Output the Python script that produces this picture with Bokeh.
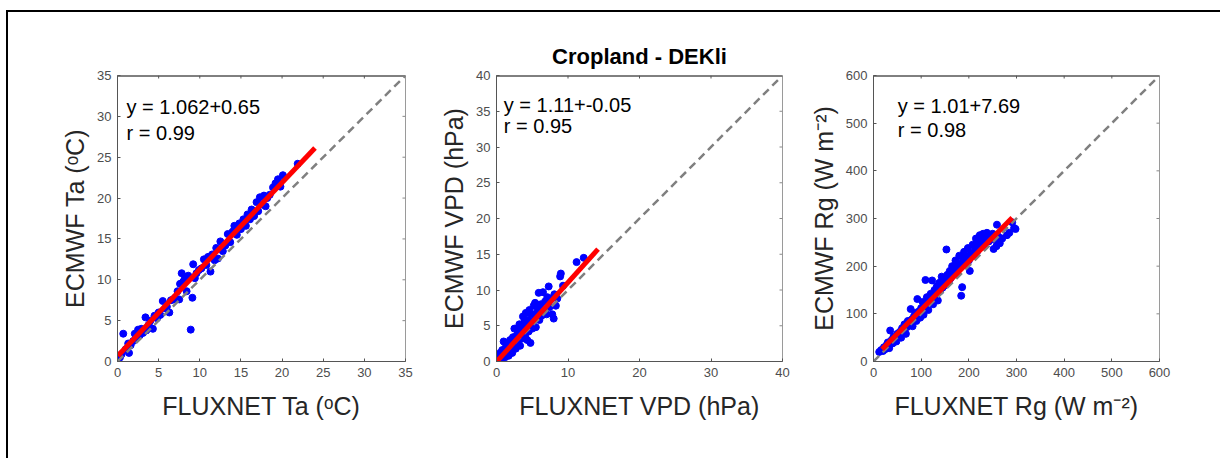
from bokeh.plotting import figure
from bokeh.models import Range1d, FixedTicker, Label, Title
from bokeh.layouts import row
from bokeh.embed import file_html
from bokeh.resources import INLINE

FONT = "Liberation Sans"

# ---------------- data ----------------
title_text = "Cropland - DEKli"

ta_x = [0.3, 0.5, 0.7, 1.0, 1.4, 1.3, 1.6, 1.9, 2.1, 2.3, 2.5, 2.7, 2.9, 3.1, 3.4, 3.5, 3.8, 4.0,
        4.3, 4.5, 4.8, 5.0, 5.2, 5.5, 5.8, 6.0, 6.3, 6.5, 6.8, 7.0, 7.3, 7.5, 7.6, 7.8, 8.0, 8.2,
        8.4, 8.6, 8.9, 9.1, 9.2, 9.4, 9.6, 9.9, 10.2, 10.5, 10.8, 11.0, 11.3, 11.5, 11.8, 12.0,
        12.2, 12.5, 12.8, 13.1, 13.4, 13.7, 14.0, 14.2, 14.5, 14.8, 15.0, 15.3, 15.6, 15.8, 16.1,
        16.3, 16.6, 16.9, 17.1, 17.3, 17.6, 17.8, 18.0, 18.2, 18.5, 18.9, 19.2, 19.5, 19.8, 20.1,
        21.9]
ta_y = [0.5, 0.9, 3.4, 1.5, 1.05, 2.2, 2.0, 2.5, 3.4, 3.0, 3.9, 3.2, 4.0, 3.5, 5.4, 3.8, 4.5, 5.0,
        4.0, 5.6, 5.3, 6.0, 5.7, 7.4, 6.5, 6.7, 6.0, 7.5, 7.6, 7.8, 8.6, 7.6, 9.5, 10.8, 9.8, 10.3,
        8.6, 10.5, 3.9, 7.8, 11.9, 10.2, 10.8, 11.2, 11.4, 12.5, 11.8, 12.8, 11.0, 13.1, 12.4, 13.9,
        12.6, 14.7, 13.5, 14.2, 15.6, 14.6, 15.9, 16.6, 15.5, 16.9, 16.2, 17.4, 16.6, 18.0, 17.4,
        18.6, 17.8, 19.5, 18.4, 20.1, 19.2, 20.3, 19.0, 20.0, 20.4, 21.3, 21.8, 22.3, 21.4, 22.8,
        24.2]

vpd_x = [0.2, 0.3, 0.5, 0.5, 0.7, 0.8, 0.9, 1.0, 1.1, 1.2, 1.3, 1.4, 1.5, 1.6, 1.7, 1.8, 1.9, 2.0,
         2.1, 2.2, 2.3, 2.4, 2.5, 2.6, 2.7, 2.8, 2.9, 3.0, 3.1, 3.2, 3.3, 3.4, 3.5, 3.6, 3.7, 3.8,
         3.9, 4.0, 4.1, 4.2, 4.3, 4.4, 4.5, 4.6, 4.75, 4.8, 4.9, 5.0, 5.2, 5.3, 5.4, 5.5, 5.6, 5.8,
         5.9, 6.0, 6.2, 6.3, 6.5, 6.6, 6.8, 7.0, 7.1, 7.3, 7.4, 7.6, 7.8, 8.0, 8.1, 8.3, 8.5, 8.9,
         9.0, 9.3, 11.2, 12.2]
vpd_y = [0.3, 0.8, 0.2, 1.2, 0.5, 1.6, 0.9, 2.8, 1.3, 0.6, 2.0, 1.0, 2.6, 1.5, 0.8, 2.2, 3.0, 1.6,
         2.6, 1.2, 3.4, 2.0, 4.6, 2.8, 1.8, 3.6, 2.4, 4.2, 3.0, 5.2, 2.2, 3.8, 4.8, 3.2, 6.3, 4.2,
         5.6, 3.6, 6.8, 4.8, 3.0, 5.8, 4.2, 7.2, 2.6, 5.4, 6.6, 4.6, 7.8, 5.8, 8.2, 4.8, 6.8, 7.4,
         9.6, 5.8, 8.0, 6.4, 9.7, 7.2, 8.4, 6.6, 9.0, 10.5, 7.6, 8.8, 6.6, 6.0, 9.4, 7.8, 8.8, 11.9,
         12.3, 10.6, 13.9, 14.5]

rg_x = [12, 16, 20, 22, 25, 28, 30, 33, 35, 38, 40, 42, 45, 48, 50, 52, 55, 58, 60, 62, 65, 68, 70,
        72, 75, 78, 80, 82, 85, 88, 90, 92, 95, 98, 100, 103, 105, 108, 109, 112, 115, 118, 120,
        123, 125, 128, 130, 133, 135, 138, 140, 143, 145, 148, 150, 153, 155, 158, 160, 162, 165,
        168, 170, 172, 175, 178, 180, 182, 184, 186, 188, 190, 192, 195, 198, 200, 202, 205, 208,
        210, 213, 215, 218, 220, 223, 225, 228, 230, 233, 235, 238, 242, 245, 250, 252, 255, 258,
        259, 262, 265, 270, 280, 285, 291, 295, 298]
rg_y = [20, 24, 22, 30, 26, 35, 40, 28, 65, 45, 38, 52, 48, 42, 58, 55, 62, 50, 70, 65, 78, 58, 72,
        85, 80, 110, 88, 74, 95, 102, 85, 131, 105, 92, 112, 125, 98, 118, 171, 135, 108, 130, 142,
        170, 120, 150, 138, 158, 128, 165, 148, 178, 155, 170, 160, 235, 182, 168, 190, 175, 200,
        182, 195, 212, 188, 205, 222, 198, 138, 156, 215, 230, 205, 220, 238, 212, 190, 228, 245,
        225, 240, 258, 232, 250, 265, 242, 255, 268, 245, 262, 270, 252, 265, 268, 236, 255, 242,
        287, 262, 248, 258, 265, 270, 292, 280, 278]

slopes = [1.062, 1.11, 1.01]
intercepts = [0.65, -0.05, 7.69]
r_values = [0.99, 0.95, 0.98]
fit_x_start = [0.05, 0.1, 18.0]
fit_x_end = [24.0, 14.2, 291.0]

axis_max = [35, 40, 600]
x_ticks = [[0, 5, 10, 15, 20, 25, 30, 35], [0, 10, 20, 30, 40], [0, 100, 200, 300, 400, 500, 600]]
y_ticks = [[0, 5, 10, 15, 20, 25, 30, 35], [0, 5, 10, 15, 20, 25, 30, 35, 40],
           [0, 100, 200, 300, 400, 500, 600]]
x_labels = ["FLUXNET Ta (\u1d52C)", "FLUXNET VPD (hPa)", "FLUXNET Rg (W m\u207b\u00b2)"]
y_labels = ["ECMWF Ta (\u1d52C)", "ECMWF VPD (hPa)", "ECMWF Rg (W m\u207b\u00b2)"]

# ---------------- layout (pixels) ----------------
geom = [  # width, height, left, right, top, bottom
    (412, 446, 109, 15, 63, 96),
    (375, 446, 76, 13, 63, 97),
    (425, 446, 78, 61, 63, 97),
]
text_pos = [(1.1, 31.1, 28.0), (1.02, 35.94, 32.9), (51, 535, 486)]
TICK_PX = 3.0


def make_panel(i, xs, ys, title=None):
    W, H, L, R, T, B = geom[i]
    m = axis_max[i]
    p = figure(width=W, height=H, x_range=Range1d(0, m), y_range=Range1d(0, m),
               output_backend="svg", toolbar_location=None,
               min_border_left=L, min_border_right=R, min_border_top=T, min_border_bottom=B,
               x_axis_label=x_labels[i], y_axis_label=y_labels[i])
    p.xgrid.grid_line_color = None
    p.ygrid.grid_line_color = None
    p.outline_line_color = "#9a9a9a"
    p.outline_line_width = 1
    p.background_fill_color = "white"
    p.border_fill_color = "white"

    p.xaxis.ticker = FixedTicker(ticks=x_ticks[i])
    p.yaxis.ticker = FixedTicker(ticks=y_ticks[i])
    for ax in (p.xaxis[0], p.yaxis[0]):
        ax.axis_line_color = "#555555"
        ax.axis_line_width = 1
        ax.major_tick_line_color = "#555555"
        ax.major_tick_in = 3
        ax.major_tick_out = 0
        ax.minor_tick_line_color = None
        ax.major_label_text_font = FONT
        ax.major_label_text_font_size = "13px"
        ax.major_label_text_color = "#4d4d4d"
        ax.major_label_standoff = 6
        ax.axis_label_text_font = FONT
        ax.axis_label_text_font_size = "25px"
        ax.axis_label_text_font_style = "normal"
        ax.axis_label_text_color = "#262626"
    p.xaxis[0].axis_label_standoff = 12
    p.yaxis[0].axis_label_standoff = 5

    # darker top edge of the box and inward tick marks on the top and right edges
    tl = m * TICK_PX / 286.0
    p.line([0, m], [m - tl * 0.15, m - tl * 0.15], line_color="#555555", line_width=1.5)
    tx = [t for t in x_ticks[i] if 0 < t < m]
    ty = [t for t in y_ticks[i] if 0 < t < m]
    p.segment(x0=tx, y0=[m] * len(tx), x1=tx, y1=[m - tl] * len(tx),
              line_color="#555555", line_width=1)
    p.segment(x0=[m] * len(ty), y0=ty, x1=[m - tl] * len(ty), y1=ty,
              line_color="#888888", line_width=1)

    if title:
        p.title = Title(text=title, align="center", text_font=FONT, text_font_size="22px",
                        text_font_style="bold", text_color="black", standoff=13)

    p.scatter(xs, ys, size=7, marker="circle", fill_color="#0000ff", line_color="#0000ff")
    p.line([0, m], [0, m], line_color="#808080", line_width=2.5, line_dash="8 5")
    fx = [fit_x_start[i], fit_x_end[i]]
    fy = [slopes[i] * v + intercepts[i] for v in fx]
    p.line(fx, fy, line_color="#ff0000", line_width=5)

    lx, ly1, ly2 = text_pos[i]
    p.add_layout(Label(x=lx, y=ly1, text=f"y = {slopes[i]}+{intercepts[i]}",
                       text_font=FONT, text_font_size="20px", text_color="black",
                       text_baseline="alphabetic"))
    p.add_layout(Label(x=lx, y=ly2, text=f"r = {r_values[i]}",
                       text_font=FONT, text_font_size="20px", text_color="black",
                       text_baseline="alphabetic"))
    return p


p1 = make_panel(0, ta_x, ta_y)
p2 = make_panel(1, vpd_x, vpd_y, title=title_text)
p3 = make_panel(2, rg_x, rg_y)

layout = row(p1, p2, p3, margin=(10, 0, 0, 6),
             styles={"border-left": "2px solid black", "border-top": "2px solid black"})

open("out.html", "w").write(file_html(layout, INLINE))
